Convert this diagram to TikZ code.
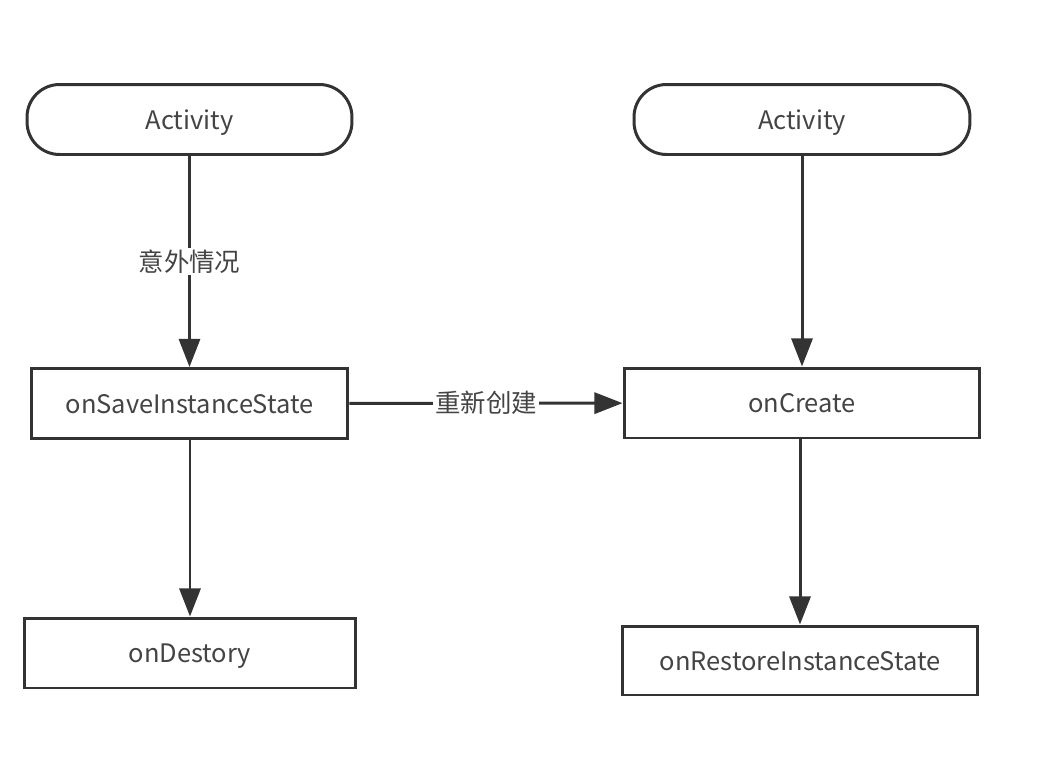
\documentclass[tikz,border=0pt]{standalone}
\usepackage{fontspec}
\setmainfont{Noto Sans CJK SC}
\usetikzlibrary{arrows.meta}
\definecolor{linegray}{HTML}{333333}
\definecolor{textgray}{HTML}{444444}
\newcommand{\boxtext}[1]{\raisebox{-5.5pt}[0pt][0pt]{#1}}
\tikzset{
  box/.style={draw=linegray, line width=1.7pt, fill=white, text=textgray,
    minimum height=1.4cm, inner sep=0pt, font=\fontsize{14.5}{17}\selectfont},
  pill/.style={box, rounded corners=0.65cm},
  flow/.style={draw=linegray, line width=1.7pt, -{Triangle[length=16pt,width=12pt]}},
  lbl/.style={fill=white, text=textgray, inner sep=1pt, font=\fontsize{14.5}{17}\selectfont}
}
\begin{document}
\begin{tikzpicture}[x=0.02cm,y=-0.02cm]
  \useasboundingbox (0,0) rectangle (1042,764);
  \draw
    (189.5,119.5) node[pill, minimum width=6.5cm] (act1){\boxtext{Activity}}
    (802,119.5) node[pill, minimum width=6.72cm] (act2){\boxtext{Activity}}
    (189.5,403.5) node[box, minimum width=6.34cm] (save){\boxtext{onSaveInstanceState}}
    (802,403) node[box, minimum width=7.12cm] (create){\boxtext{onCreate}}
    (190,653) node[box, minimum width=6.64cm] (destroy){\boxtext{onDestory}}
    (800,660.5) node[box, minimum width=7.12cm, minimum height=1.38cm] (restore){\boxtext{onRestoreInstanceState}};
  \begin{scope}[flow]
    \draw (act1) to node[lbl, pos=0.5]{意外情况} (save);
    \draw (save) to node[lbl, pos=0.5]{重新创建} (create);
    \draw (save.south -| destroy.north) to (destroy);
    \draw (act2) to (create);
    \draw (create.south -| restore.north) to (restore);
  \end{scope}
\end{tikzpicture}
\end{document}
